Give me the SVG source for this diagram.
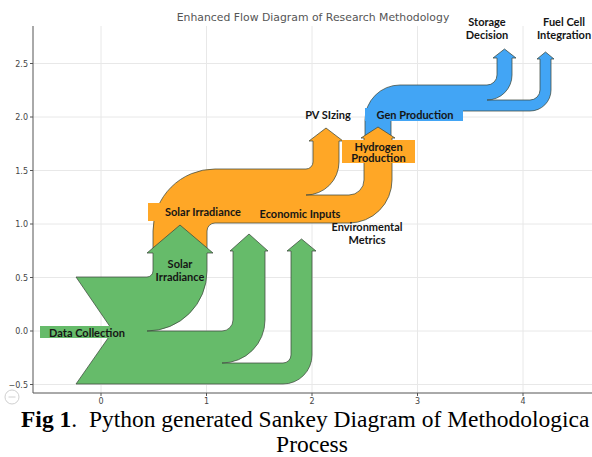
<svg xmlns="http://www.w3.org/2000/svg" width="592" height="457" viewBox="0 0 592 457">
<style>
.grid{stroke:#e8e8e8;stroke-width:1;fill:none}
.spine{stroke:#555;stroke-width:1;fill:none}
.tick{font-family:"DejaVu Sans",sans-serif;font-size:8px;fill:#444}
.flow{stroke:#3d4a3d;stroke-opacity:0.75;stroke-width:1;stroke-linejoin:round}
.lbl{font-family:Lato,"Open Sans",sans-serif;font-weight:bold;font-size:11px;fill:#151515;text-anchor:middle}
.title{font-family:"DejaVu Sans",sans-serif;font-size:10.85px;fill:#555;text-anchor:middle}
.cap{font-family:"Liberation Serif","Times New Roman",serif;font-size:23.5px;fill:#000}
</style>
<rect width="592" height="457" fill="#fff"/>
<g id="axes">
<g class="grid">
<line x1="33" y1="63.5" x2="592" y2="63.5"/>
<line x1="33" y1="117" x2="592" y2="117"/>
<line x1="33" y1="170.5" x2="592" y2="170.5"/>
<line x1="33" y1="224" x2="592" y2="224"/>
<line x1="33" y1="277.5" x2="592" y2="277.5"/>
<line x1="33" y1="331" x2="592" y2="331"/>
<line x1="33" y1="384.5" x2="592" y2="384.5"/>
<line x1="101" y1="26" x2="101" y2="393"/>
<line x1="206.5" y1="26" x2="206.5" y2="393"/>
<line x1="312" y1="26" x2="312" y2="393"/>
<line x1="417.5" y1="26" x2="417.5" y2="393"/>
<line x1="523" y1="26" x2="523" y2="393"/>
</g>
<path class="spine" d="M33,26 L33,393 L592,393"/>
<path class="spine" d="M30,63.5h3M30,117h3M30,170.5h3M30,224h3M30,277.5h3M30,331h3M30,384.5h3M101,393v3M206.5,393v3M312,393v3M417.5,393v3M523,393v3"/>
<g class="tick" text-anchor="end">
<text x="28" y="66.5">2.5</text>
<text x="28" y="120">2.0</text>
<text x="28" y="173.5">1.5</text>
<text x="28" y="227">1.0</text>
<text x="28" y="280.5">0.5</text>
<text x="28" y="334">0.0</text>
<text x="28" y="387.5">−0.5</text>
</g>
<g class="tick" text-anchor="middle">
<text x="101" y="404">0</text>
<text x="206.5" y="404">1</text>
<text x="312" y="404">2</text>
<text x="417.5" y="404">3</text>
<text x="523" y="404">4</text>
</g>
<text class="title" x="313" y="21">Enhanced Flow Diagram of Research Methodology</text>
<g stroke="#d0d0d0" fill="none" stroke-width="1"><circle cx="12" cy="397" r="7"/><line x1="8.5" y1="397" x2="15.5" y2="397"/></g>
</g>
<g id="connectors">
<g id="flow-hydrogen">
<path class="flow" fill="#42a5f5" d="M365,138 L365,120 A35,35 0 0 1 400,85 L487,85 A10,10 0 0 0 497,75 L497,58 L493,58 L504.5,49 L516,58 L512,58 L512,75 A25,25 0 0 1 487,100 L530,100 A10,10 0 0 0 540,90 L540,59 L537,59 L545.5,52 L554,59 L551,59 L551,90 A21,21 0 0 1 530,111 L400,111 A9,9 0 0 0 391,120 L391,138 Z"/>
</g>
<g id="flow-solar">
<path class="flow" fill="#ffa726" d="M153,250 L153,231 A62,62 0 0 1 215,169 L306,169 A7,7 0 0 0 313,162 L313,141 L309,141 L326,128 L343,141 L339,141 L339,162 A33,33 0 0 1 306,195 L349,195 A15,15 0 0 0 364,180 L364,138 L361,138 L378,127 L395,138 L392,138 L392,180 A43,43 0 0 1 349,223 L215,223 A8,8 0 0 0 207,231 L207,250 Z"/>
</g>
<g id="flow-data">
<path class="flow" fill="#66bb6a" d="M76,277 L147,277 A6,6 0 0 0 153,271 L153,253 L147,253 L180,225 L213,253 L207,253 L207,271 A60,60 0 0 1 147,331 L222,331 A11,11 0 0 0 233,320 L233,251 L230,251 L249,234 L268,251 L265,251 L265,320 A43,43 0 0 1 222,363 L283,363 A8,8 0 0 0 291,355 L291,251 L287,251 L301.5,239 L316,251 L312,251 L312,355 A29,29 0 0 1 283,384 L76,384 L113,331 Z"/>
</g>
</g>
<g id="node-data-collection">
<rect x="40" y="326" width="94" height="12" fill="#66bb6a"/>
<text class="lbl" x="87" y="337">Data Collection</text>
</g>
<g id="node-solar-irradiance-in">
<text class="lbl" x="180" y="268">Solar</text>
<text class="lbl" x="180" y="281">Irradiance</text>
</g>
<g id="node-solar-irradiance">
<rect x="148" y="203" width="110" height="18" fill="#ffa726"/>
<text class="lbl" x="203" y="216">Solar Irradiance</text>
</g>
<g id="node-economic-inputs">
<rect x="256" y="205" width="88" height="16" fill="#ffa726"/>
<text class="lbl" x="300" y="218">Economic Inputs</text>
</g>
<g id="node-environmental-metrics">
<text class="lbl" x="367" y="231">Environmental</text>
<text class="lbl" x="367" y="244">Metrics</text>
</g>
<g id="node-pv-sizing">
<text class="lbl" x="328" y="119">PV SIzing</text>
</g>
<g id="node-hydrogen-production">
<rect x="342" y="140" width="73" height="23" fill="#ffa726"/>
<text class="lbl" x="378.5" y="150.5">Hydrogen</text>
<text class="lbl" x="378.5" y="162">Production</text>
</g>
<g id="node-gen-production">
<rect x="365" y="108" width="98" height="13" fill="#42a5f5"/>
<text class="lbl" x="415" y="119">Gen Production</text>
</g>
<g id="node-storage-decision">
<text class="lbl" x="487" y="26">Storage</text>
<text class="lbl" x="487" y="39">Decision</text>
</g>
<g id="node-fuel-cell">
<text class="lbl" x="564" y="26">Fuel Cell</text>
<text class="lbl" x="564" y="39">Integration</text>
</g>
<g id="caption">
<text class="cap" x="21" y="427"><tspan font-weight="bold">Fig 1</tspan>.&#160; Python generated Sankey Diagram of Methodologica</text>
<text class="cap" x="312" y="452" text-anchor="middle">Process</text>
</g>
</svg>
